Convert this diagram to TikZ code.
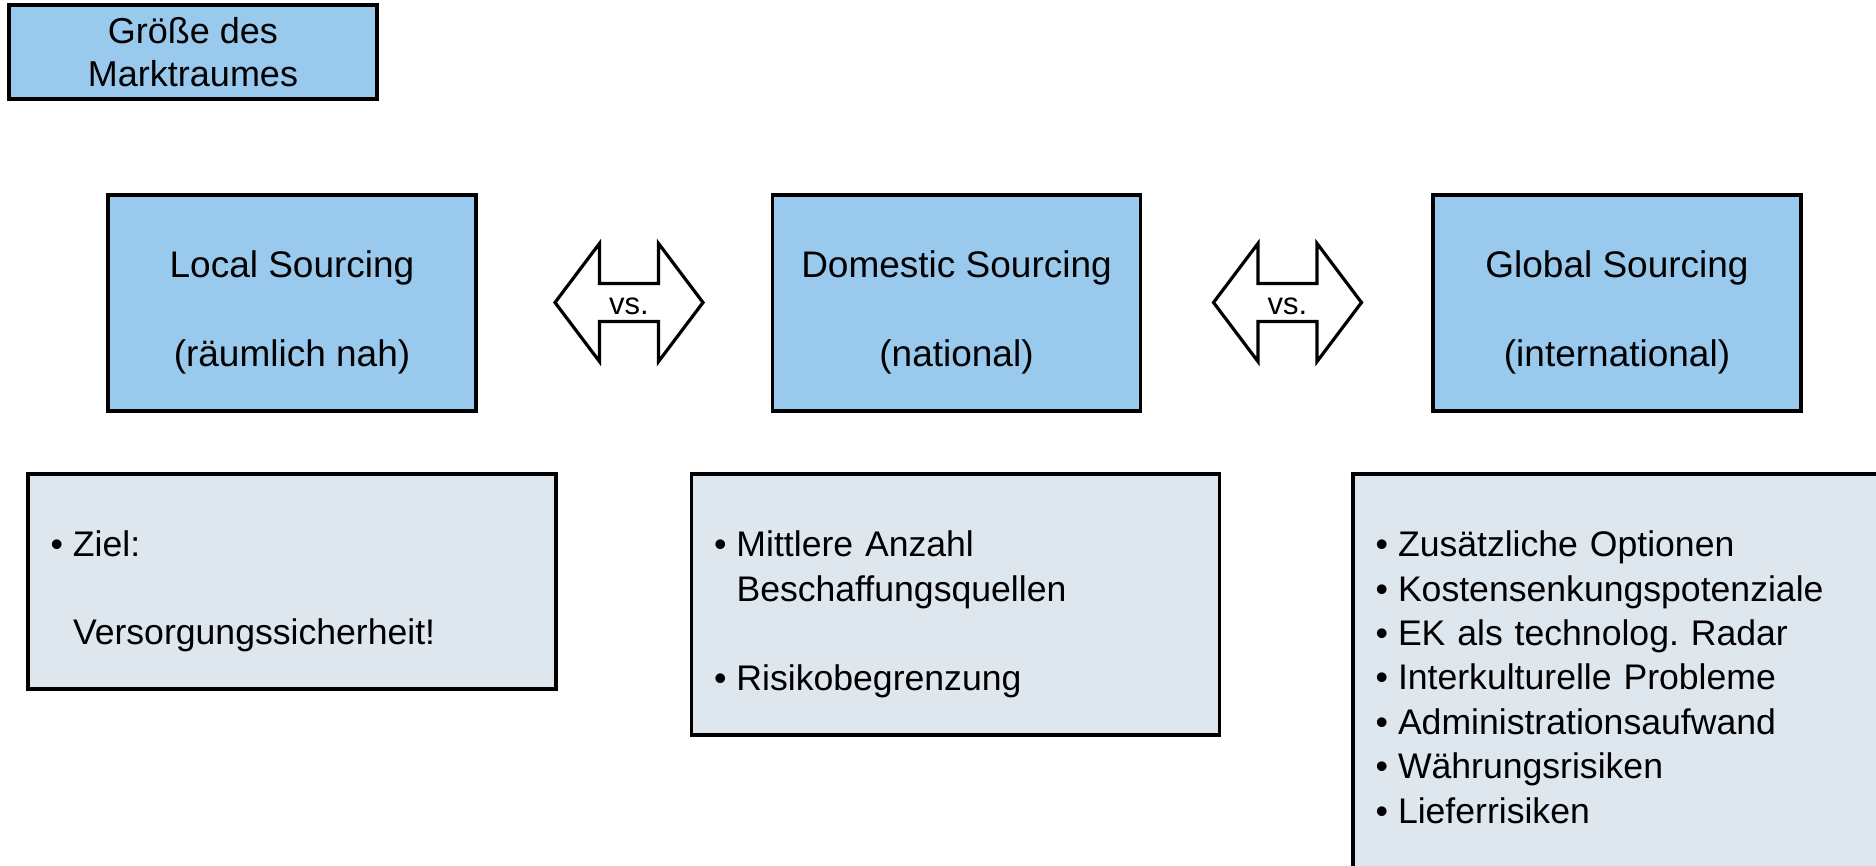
\documentclass[tikz,border=0pt]{standalone}
\usepackage{fontspec}
\setmainfont{Liberation Sans}
\usetikzlibrary{shapes.arrows}
\definecolor{topblue}{RGB}{153,201,236}
\definecolor{listgrey}{RGB}{222,230,238}
\tikzstyle{headbox} = [rectangle, draw=black, line width=1.6pt, fill=topblue, align=center, inner sep=0pt, minimum width=184pt, minimum height=108pt, font=\fontsize{18.5}{22.2}\selectfont]
\tikzstyle{listbox} = [rectangle, draw=black, line width=1.6pt, fill=listgrey, align=left, inner ysep=0pt, inner xsep=11.3pt, text width=241.4pt, font=\fontsize{17.8}{22.2}\selectfont]
\tikzstyle{vsarrow} = [double arrow, draw=black, line width=1.6pt, fill=white, minimum height=74pt, minimum width=59pt, double arrow head extend=14.25pt, double arrow tip angle=106, inner sep=0pt, text height=12pt, text depth=0pt, font=\fontsize{15.5}{18}\selectfont]
\newcommand{\lnstrut}{\rule[-4.6pt]{0pt}{22.2pt}}
\newcommand{\topstrut}{\rule[-4.6pt]{0pt}{28.2pt}}
\newcommand{\itemdot}{\makebox[11.2pt][l]{•}}
\newcommand{\itemgap}{\hspace*{11.2pt}}
\frenchspacing

\begin{document}
\begin{tikzpicture}[x=0.5pt,y=-0.5pt]
\useasboundingbox (0,0) rectangle (1876,866);
\draw (193,52) node (groesse) [headbox, minimum height=47pt, font=\fontsize{18}{21.5}\selectfont] {Größe des\\Marktraumes};
\draw (292,303) node (local) [headbox] {\topstrut Local Sourcing\\\lnstrut\\\lnstrut(räumlich nah)};
\draw (956.5,303) node (domestic) [headbox] {\topstrut Domestic Sourcing\\\lnstrut\\\lnstrut(national)};
\draw (1617,303) node (global) [headbox] {\topstrut Global Sourcing\\\lnstrut\\\lnstrut(international)};
\draw (629,302.5) node (vsone) [vsarrow] {vs.};
\draw (1287.5,302.5) node (vstwo) [vsarrow] {vs.};
\draw (292,581.5) node (localtxt) [listbox, minimum height=107.5pt] {\itemdot\topstrut Ziel:\\\lnstrut\\\itemgap\lnstrut Versorgungssicherheit!};
\draw (955.5,604.5) node (domestictxt) [listbox, minimum height=130.5pt] {\itemdot\topstrut Mittlere Anzahl\\\itemgap\lnstrut Beschaffungsquellen\\\lnstrut\\\itemdot\lnstrut Risikobegrenzung};
\draw (1617,671) node (globaltxt) [listbox, minimum height=197pt] {\itemdot\topstrut Zusätzliche Optionen\\\itemdot\lnstrut Kostensenkungspotenziale\\\itemdot\lnstrut EK als technolog. Radar\\\itemdot\lnstrut Interkulturelle Probleme\\\itemdot\lnstrut Administrationsaufwand\\\itemdot\lnstrut Währungsrisiken\\\itemdot\lnstrut Lieferrisiken};
\end{tikzpicture}
\end{document}
